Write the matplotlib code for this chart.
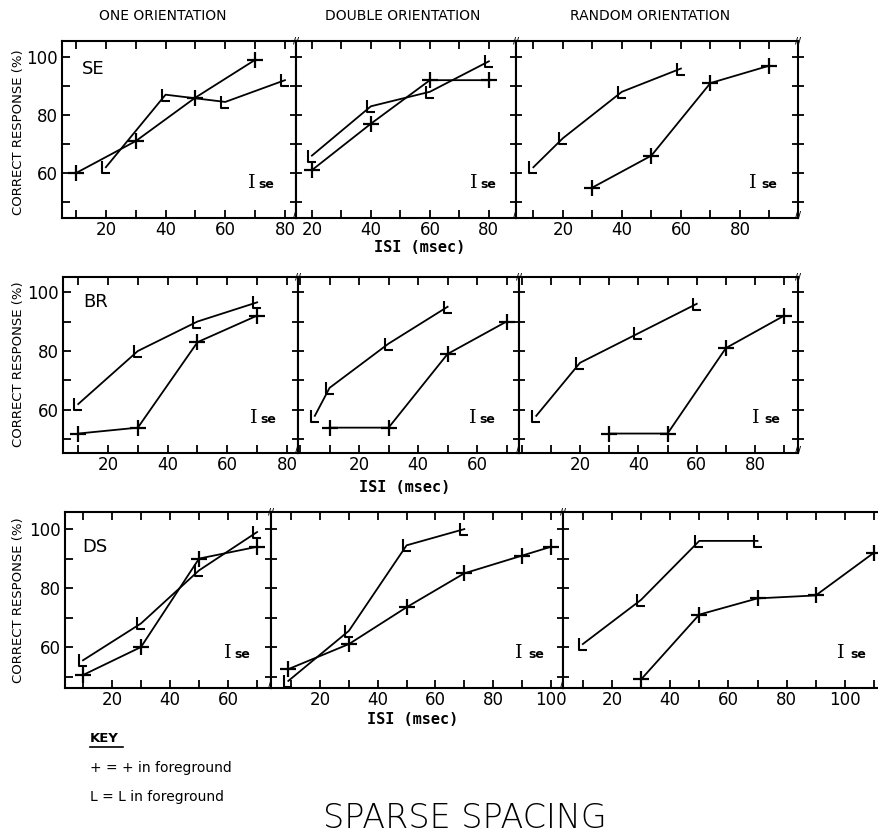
import numpy as np
import matplotlib
matplotlib.use('Agg')
import matplotlib.pyplot as plt
from matplotlib.path import Path
from matplotlib.lines import Line2D
from matplotlib.ticker import MultipleLocator, FuncFormatter

# ---- data: ISI (msec) vs correct response (%) ----
subjects = ['SE', 'BR', 'DS']
conditions = ['ONE ORIENTATION', 'DOUBLE ORIENTATION', 'RANDOM ORIENTATION']

# SE
se_one_plus_x = [10, 30, 50, 70]
se_one_plus_y = [60, 71, 86, 99]
se_one_L_x = [20, 40, 60, 80]
se_one_L_y = [62, 87, 84.5, 92]
se_double_plus_x = [20, 40, 60, 80]
se_double_plus_y = [61, 77, 92, 92]
se_double_L_x = [20, 40, 60, 80]
se_double_L_y = [66, 83, 88, 98.5]
se_random_plus_x = [30, 50, 70, 90]
se_random_plus_y = [55, 66, 91, 97]
se_random_L_x = [10, 20, 40, 60]
se_random_L_y = [62, 72, 88, 96]

# BR
br_one_plus_x = [10, 30, 50, 70]
br_one_plus_y = [52, 54, 83, 92]
br_one_L_x = [10, 30, 50, 70]
br_one_L_y = [62, 80, 90, 96.5]
br_double_plus_x = [10, 30, 50, 70]
br_double_plus_y = [54, 54, 79, 90]
br_double_L_x = [5, 10, 30, 50]
br_double_L_y = [58, 67.5, 82.5, 95]
br_random_plus_x = [30, 50, 70, 90]
br_random_plus_y = [52, 52, 81, 92]
br_random_L_x = [5, 20, 40, 60]
br_random_L_y = [58, 76, 86, 96]

# DS
ds_one_plus_x = [10, 30, 50, 70]
ds_one_plus_y = [50.5, 60, 90, 94]
ds_one_L_x = [10, 30, 50, 70]
ds_one_L_y = [55.5, 68, 86, 99]
ds_double_plus_x = [9, 30, 50, 70, 90, 100]
ds_double_plus_y = [52.5, 61, 73.5, 85, 91, 94]
ds_double_L_x = [9, 30, 50, 70]
ds_double_L_y = [48.5, 65.5, 94.5, 100]
ds_random_plus_x = [30, 50, 70, 90, 110]
ds_random_plus_y = [49, 71, 76.5, 77.5, 92]
ds_random_L_x = [10, 30, 50, 70]
ds_random_L_y = [61, 76, 96, 96]

data = [
    [(se_one_plus_x, se_one_plus_y, se_one_L_x, se_one_L_y),
     (se_double_plus_x, se_double_plus_y, se_double_L_x, se_double_L_y),
     (se_random_plus_x, se_random_plus_y, se_random_L_x, se_random_L_y)],
    [(br_one_plus_x, br_one_plus_y, br_one_L_x, br_one_L_y),
     (br_double_plus_x, br_double_plus_y, br_double_L_x, br_double_L_y),
     (br_random_plus_x, br_random_plus_y, br_random_L_x, br_random_L_y)],
    [(ds_one_plus_x, ds_one_plus_y, ds_one_L_x, ds_one_L_y),
     (ds_double_plus_x, ds_double_plus_y, ds_double_L_x, ds_double_L_y),
     (ds_random_plus_x, ds_random_plus_y, ds_random_L_x, ds_random_L_y)],
]

# ---- layout (pixels of the 879x834 canvas) ----
W, H = 879, 834
row_tb = [(41, 218), (277, 453), (512, 688)]
col_edges = [[62, 296, 516, 798], [63, 298, 519, 798], [65, 271, 563, 890]]
xlims = [[(5.3, 83.7), (14.6, 89.2), (4.1, 99.7)],
         [(4.9, 83.7), (-0.7, 74.2), (-0.9, 94.7)],
         [(3.8, 74.8), (3.0, 104.2), (3.2, 115.5)]]
ylims = [(44.5, 105.5), (45.4, 105.1), (46.1, 105.8)]
se_pos = [[0.81, 0.81, 0.84], [0.81, 0.79, 0.85], [0.79, 0.85, 0.85]]
name_y = [0.84, 0.86, 0.80]

L_marker = Path([(-0.3, 0.5), (-0.3, -0.5), (0.35, -0.5)],
                [Path.MOVETO, Path.LINETO, Path.LINETO])

fig = plt.figure(figsize=(W / 100, H / 100), dpi=100)

def xfmt(v, pos):
    v = int(round(v))
    return str(v) if v % 20 == 0 and v > 0 else ''

def yfmt(v, pos):
    v = int(round(v))
    return str(v) if v % 20 == 0 else ''

for r in range(3):
    t, b = row_tb[r]
    for c in range(3):
        l, rr = col_edges[r][c], col_edges[r][c + 1]
        ax = fig.add_axes([l / W, 1 - b / H, (rr - l) / W, (b - t) / H])
        px, py, lx, ly = data[r][c]
        ax.plot(px, py, '-', color='k', lw=1.3)
        ax.plot(lx, ly, '-', color='k', lw=1.3)
        ax.plot(px, py, ls='none', marker='+', ms=11, mew=1.6, color='k')
        ax.plot(lx, ly, ls='none', marker=L_marker, ms=9, mew=1.5,
                mfc='none', color='k')
        ax.set_xlim(*xlims[r][c])
        ax.set_ylim(*ylims[r])
        for s in ax.spines.values():
            s.set_linewidth(1.5)
        ax.xaxis.set_major_locator(MultipleLocator(10))
        ax.yaxis.set_major_locator(MultipleLocator(10))
        ax.xaxis.set_major_formatter(FuncFormatter(xfmt))
        ax.yaxis.set_major_formatter(FuncFormatter(yfmt))
        ax.tick_params(axis='x', direction='in', top=True, length=6,
                       width=1.3, labelsize=12, pad=2)
        ax.tick_params(axis='y', direction='in' if c == 0 else 'inout',
                       right=(c == 2), length=6 if c == 0 else 9,
                       width=1.3, labelsize=12, pad=3, labelleft=(c == 0))
        # standard error symbol
        ax.text(se_pos[r][c], 0.2, 'I', transform=ax.transAxes,
                family='DejaVu Serif', fontsize=14, ha='center', va='center')
        ax.text(se_pos[r][c] + 0.03, 0.19, 'se', transform=ax.transAxes,
                fontsize=9, fontweight='bold', ha='left', va='center')
        # axis break marks
        if not (r == 2 and c == 2):
            ax.text(1, 1, '//', transform=ax.transAxes, fontsize=6,
                    fontweight='bold', ha='center', va='center', clip_on=False)
            ax.text(1, 0.015, '//', transform=ax.transAxes, fontsize=6,
                    fontweight='bold', ha='center', va='center', clip_on=False)
        if c == 0:
            ax.text(0.085, name_y[r], subjects[r], transform=ax.transAxes,
                    fontsize=13, ha='left', va='center')

# column titles
for x, txt in zip([163, 403, 650], conditions):
    fig.text(x / W, 1 - 16 / H, txt, fontsize=10, ha='center', va='center')

# y labels
for yc in [132, 364, 600]:
    fig.text(19 / W, 1 - yc / H, 'CORRECT RESPONSE (%)', rotation=90,
             fontsize=9.5, ha='center', va='center')

# x labels
for xc, yc in [(420, 247), (405, 488), (413, 720)]:
    fig.text(xc / W, 1 - yc / H, 'ISI (msec)', family='DejaVu Sans Mono',
             fontsize=11, fontweight='bold', ha='center', va='center')

# key
fig.text(90 / W, 1 - 738 / H, 'KEY', fontsize=9.5, fontweight='bold',
         ha='left', va='center')
fig.add_artist(Line2D([90 / W, 123 / W], [1 - 747 / H, 1 - 747 / H],
                      color='k', lw=1.2))
fig.text(90 / W, 1 - 768 / H, '+ = + in foreground', fontsize=10,
         ha='left', va='center')
fig.text(90 / W, 1 - 797 / H, 'L = L in foreground', fontsize=10,
         ha='left', va='center')

fig.text(465 / W, 1 - 819 / H, 'SPARSE SPACING', fontsize=24,
         fontweight='light', ha='center', va='center')

fig.savefig('out.png', dpi=100)
